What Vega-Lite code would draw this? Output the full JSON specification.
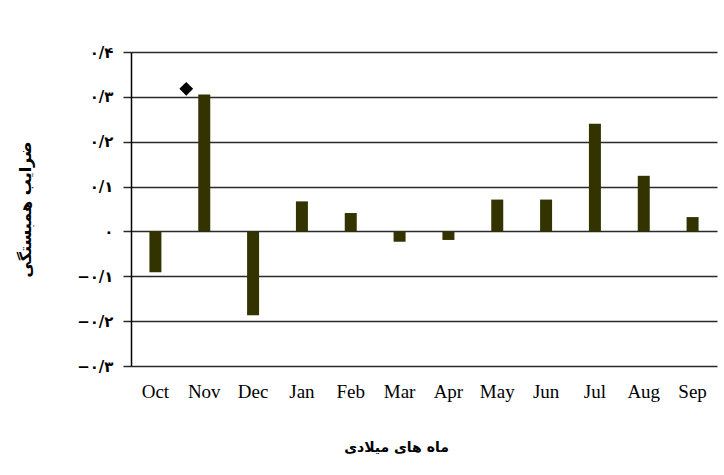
{
  "$schema": "https://vega.github.io/schema/vega-lite/v6.json",
  "width": 586,
  "height": 314,
  "autosize": {"type": "none"},
  "padding": {"left": 131, "top": 52, "right": 7, "bottom": 109},
  "background": "white",
  "config": {"view": {"stroke": null}},
  "data": {
    "values": [
      {"month": "Oct", "r": -0.091},
      {"month": "Nov", "r": 0.305, "marker": 0.318},
      {"month": "Dec", "r": -0.187},
      {"month": "Jan", "r": 0.067},
      {"month": "Feb", "r": 0.041},
      {"month": "Mar", "r": -0.023},
      {"month": "Apr", "r": -0.019},
      {"month": "May", "r": 0.071},
      {"month": "Jun", "r": 0.071},
      {"month": "Jul", "r": 0.24},
      {"month": "Aug", "r": 0.124},
      {"month": "Sep", "r": 0.032}
    ]
  },
  "layer": [
    {
      "mark": {"type": "bar", "color": "#333300", "size": 12},
      "encoding": {
        "x": {
          "field": "month",
          "type": "nominal",
          "sort": ["Oct", "Nov", "Dec", "Jan", "Feb", "Mar", "Apr", "May", "Jun", "Jul", "Aug", "Sep"],
          "title": "ماه های میلادی",
          "axis": {
            "domain": false,
            "ticks": false,
            "labelAngle": 0,
            "labelFont": "Liberation Serif",
            "labelFontSize": 19,
            "labelColor": "black",
            "labelPadding": 16,
            "titleFont": "DejaVu Sans",
            "titleFontSize": 14,
            "titleFontWeight": "bold",
            "titleColor": "black",
            "titleX": 265,
            "titleY": 74,
            "titleAlign": "center"
          }
        },
        "y": {
          "field": "r",
          "type": "quantitative",
          "scale": {"domain": [-0.3, 0.4], "nice": false, "zero": true},
          "title": "ضرایب همبستگی",
          "axis": {
            "values": [-0.3, -0.2, -0.1, 0, 0.1, 0.2, 0.3, 0.4],
            "labelExpr": "datum.value == 0 ? '۰' : (datum.value < 0 ? '−' : '') + '۰/' + ['۰','۱','۲','۳','۴','۵','۶','۷','۸','۹'][round(abs(datum.value)*10)]",
            "grid": true,
            "gridColor": "#2a2a2a",
            "gridWidth": 1.5,
            "domainColor": "black",
            "domainWidth": 1.5,
            "tickSize": 8,
            "tickColor": "#2a2a2a",
            "tickWidth": 1.5,
            "labelPadding": 10,
            "labelFont": "DejaVu Sans",
            "labelFontSize": 15,
            "labelFontWeight": "bold",
            "labelColor": "black",
            "titleFont": "DejaVu Sans",
            "titleFontSize": 16,
            "titleFontWeight": "bold",
            "titleColor": "black",
            "titleAngle": -90,
            "titleX": -106,
            "titleY": 157,
            "titleAlign": "center",
            "titleBaseline": "middle"
          }
        }
      }
    },
    {
      "transform": [{"filter": "isValid(datum.marker)"}],
      "mark": {"type": "point", "shape": "diamond", "filled": true, "color": "black", "opacity": 1, "size": 190, "xOffset": -18},
      "encoding": {
        "x": {"field": "month", "type": "nominal", "sort": ["Oct", "Nov", "Dec", "Jan", "Feb", "Mar", "Apr", "May", "Jun", "Jul", "Aug", "Sep"]},
        "y": {"field": "marker", "type": "quantitative"}
      }
    }
  ]
}
